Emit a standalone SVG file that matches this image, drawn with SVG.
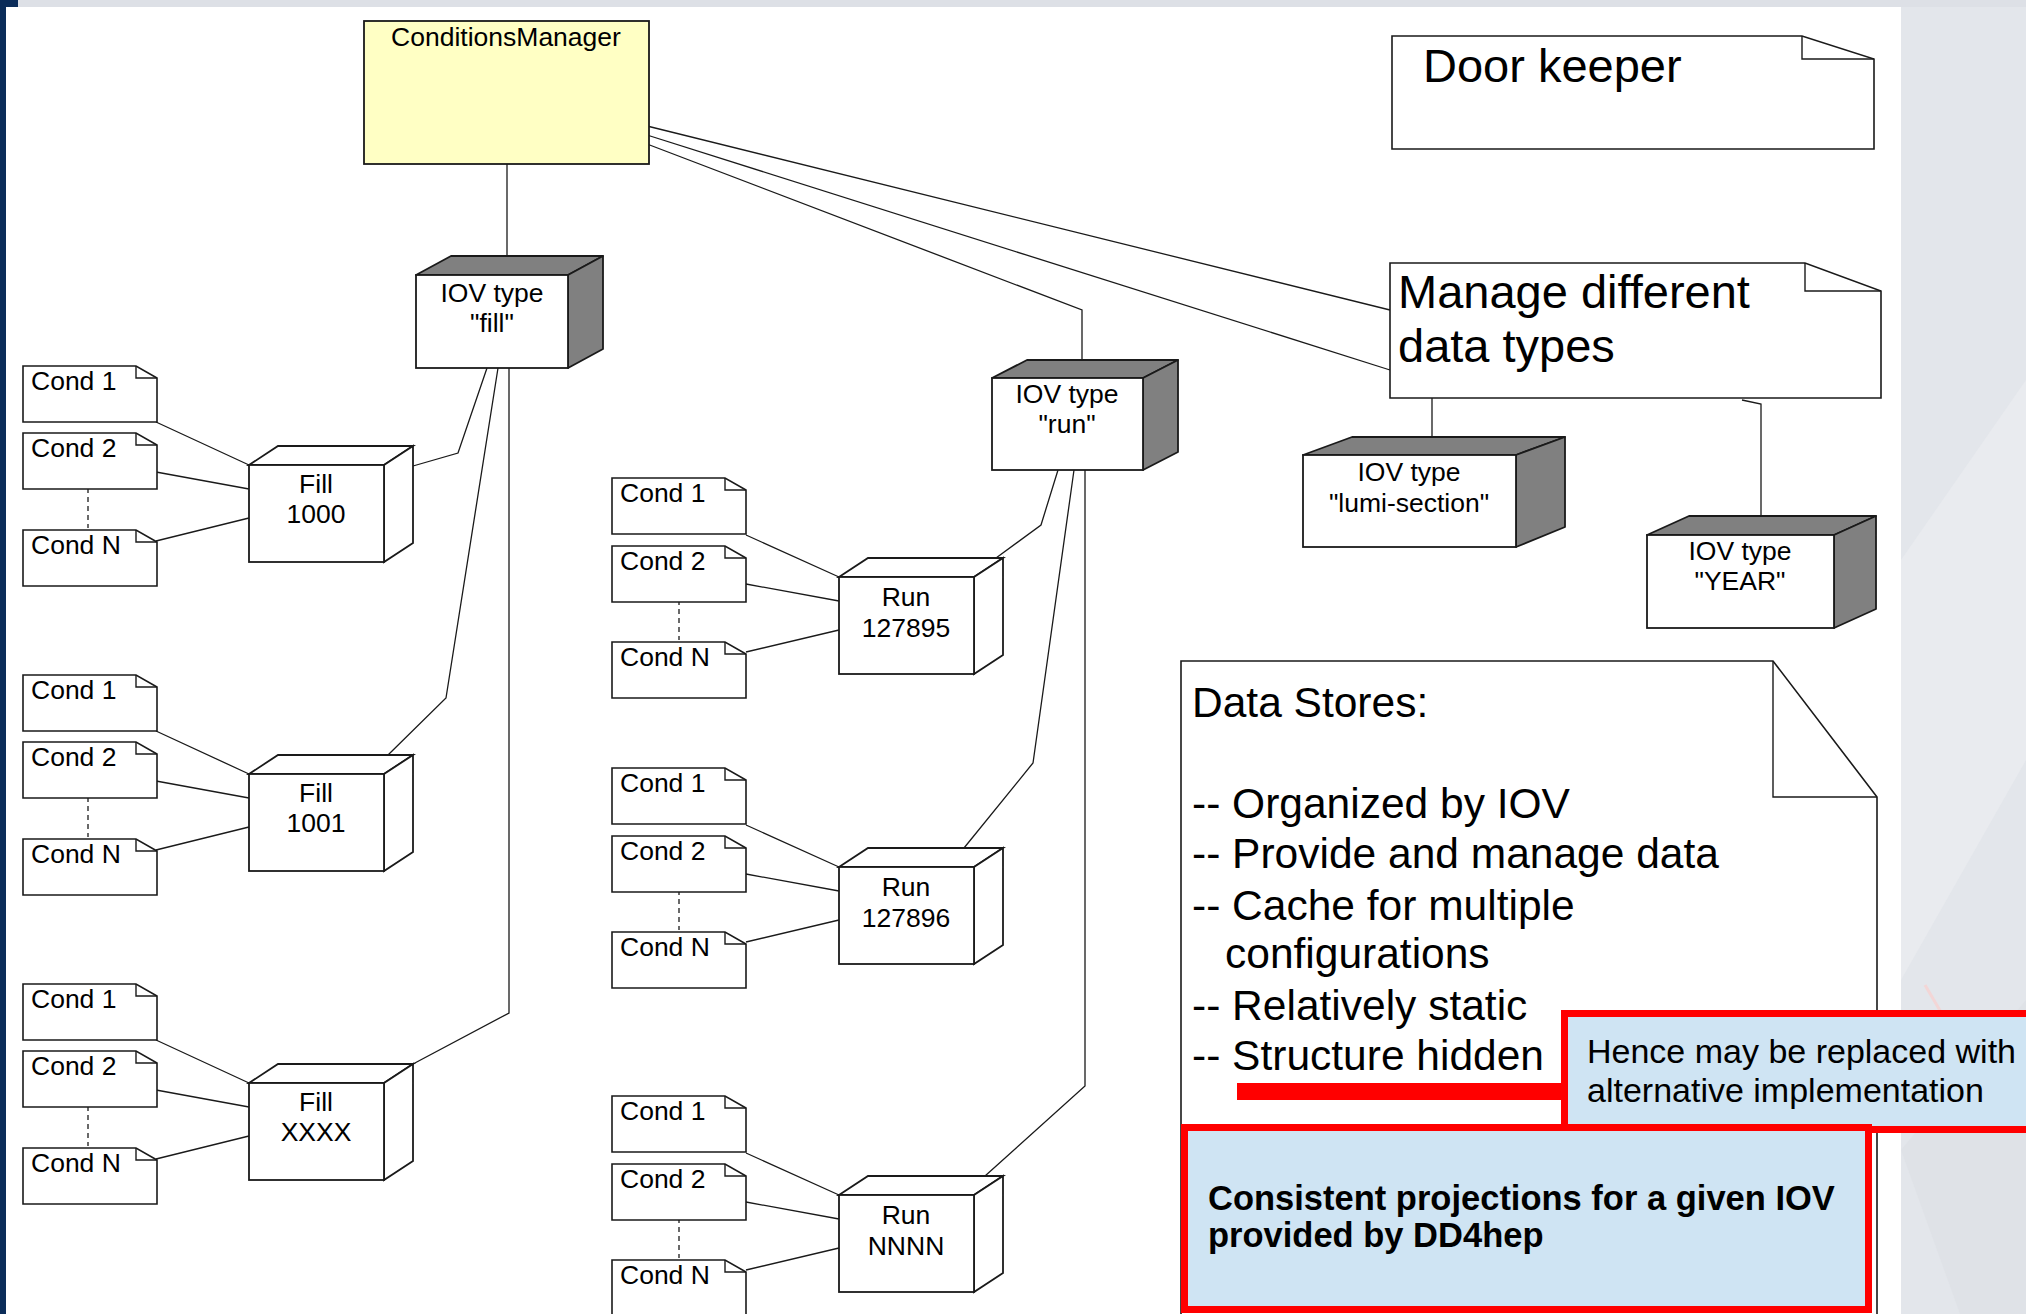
<svg xmlns="http://www.w3.org/2000/svg" xmlns:xlink="http://www.w3.org/1999/xlink" width="2026" height="1314" viewBox="0 0 2026 1314">
  <style>
    .lbl { font-family: "Liberation Sans", Arial, sans-serif; font-size: 26.5px; fill: #000; }
    .mid { text-anchor: middle; }
    .big { font-family: "Liberation Sans", Arial, sans-serif; font-size: 47px; fill: #000; }
    .ds { font-family: "Liberation Sans", Arial, sans-serif; font-size: 42.5px; fill: #000; }
    .hl { font-family: "Liberation Sans", Arial, sans-serif; font-size: 34px; fill: #000; }
    .hlb { font-family: "Liberation Sans", Arial, sans-serif; font-size: 34.5px; font-weight: bold; fill: #000; }
    .note { fill: #fff; stroke: #1a1a1a; stroke-width: 1.6; }
    .fold { fill: none; stroke: #1a1a1a; stroke-width: 1.4; }
    .face { fill: #fff; stroke: #1a1a1a; stroke-width: 1.8; }
    .shade { fill: #808080; stroke: #1a1a1a; stroke-width: 1.8; stroke-linejoin: round; }
    .conn { fill: none; stroke: #1a1a1a; stroke-width: 1.3; }
    .dash { fill: none; stroke: #1a1a1a; stroke-width: 1.3; stroke-dasharray: 5 4; }
    .callout { fill: #cfe4f3; stroke: #ff0000; stroke-width: 7; }
  </style>
  <defs>
    <!-- condition document: page with folded corner -->
    <g id="cond">
      <path class="note" d="M0,0 H113 L134,12 V56 H0 Z"/>
      <path class="fold" d="M113,0 V12 H134"/>
    </g>
    <!-- plain (white) 3D node, front 135x97 -->
    <g id="cube">
      <polygon class="face" points="0,0 29,-19 164,-19 135,0"/>
      <polygon class="face" points="135,0 164,-19 164,78 135,97"/>
      <rect class="face" x="0" y="0" width="135" height="97"/>
    </g>
  </defs>

  <!-- page background -->
  <rect x="0" y="0" width="2026" height="1314" fill="#ffffff"/>
  <rect x="1901" y="0" width="125" height="1314" fill="#e3e6eb"/>
  <polygon points="1901,560 2026,380 2026,760 1901,980" fill="#e9ebef"/>
  <polygon points="1901,1150 2026,1000 2026,1314 1960,1314" fill="#dfe2e7"/>
  <line x1="1925" y1="985" x2="1975" y2="1070" stroke="#f3d6d6" stroke-width="3"/>
  <rect x="0" y="0" width="2026" height="7" fill="#dde0e6"/>
  <rect x="0" y="0" width="6" height="1314" fill="#0b2c59"/>
  <rect x="0" y="0" width="18" height="7" fill="#0b2c59"/>

  <!-- connectors -->
  <g id="connectors">
    <path class="conn" d="M647,126 L1390,310"/>
    <path class="conn" d="M647,135 L1390,370"/>
    <path class="conn" d="M647,144 L1082,310 L1082,360"/>
    <path class="conn" d="M507,164 L507,256"/>
    <path class="conn" d="M487,368 L458,453 L413,466"/>
    <path class="conn" d="M498,368 L446,698 L388,755"/>
    <path class="conn" d="M509,368 L509,1013 L413,1064"/>
    <path class="conn" d="M1058,470 L1041,525 L996,558"/>
    <path class="conn" d="M1074,470 L1033,763 L964,848"/>
    <path class="conn" d="M1085,470 L1085,1086 L985,1176"/>
    <path class="conn" d="M1432,398 L1432,437"/>
    <path class="conn" d="M1742,400 L1761,404 L1761,516"/>
    <!-- fill groups -->
    <path class="conn" d="M156,422 L249,465 M156,472 L249,489 M156,541 L249,518"/>
    <path class="conn" d="M156,731 L249,774 M156,781 L249,798 M156,850 L249,827"/>
    <path class="conn" d="M156,1040 L249,1083 M156,1090 L249,1107 M156,1159 L249,1136"/>
    <path class="dash" d="M88,488 V528 M88,797 V837 M88,1106 V1146"/>
    <!-- run groups -->
    <path class="conn" d="M746,535 L839,577 M746,584 L839,601 M746,652 L839,630"/>
    <path class="conn" d="M746,825 L839,867 M746,874 L839,891 M746,942 L839,920"/>
    <path class="conn" d="M746,1153 L839,1195 M746,1202 L839,1219 M746,1270 L839,1248"/>
    <path class="dash" d="M679,600 V640 M679,890 V930 M679,1218 V1258"/>
  </g>

  <!-- manager -->
  <g id="conditions-manager">
    <rect x="364" y="21" width="285" height="143" fill="#ffffc4" stroke="#1a1a1a" stroke-width="1.8"/>
    <text class="lbl mid" x="506" y="46">ConditionsManager</text>
  </g>

  <!-- IOV type nodes (shaded 3D boxes) -->
  <g id="iov-fill">
    <polygon class="shade" points="416,275 451,256 603,256 568,275"/>
    <polygon class="shade" points="568,275 603,256 603,349 568,368"/>
    <rect class="face" x="416" y="275" width="152" height="93"/>
    <text class="lbl mid" x="492" y="302">IOV type</text>
    <text class="lbl mid" x="492" y="332">"fill"</text>
  </g>
  <g id="iov-run">
    <polygon class="shade" points="992,378 1027,360 1178,360 1143,378"/>
    <polygon class="shade" points="1143,378 1178,360 1178,452 1143,470"/>
    <rect class="face" x="992" y="378" width="151" height="92"/>
    <text class="lbl mid" x="1067" y="403">IOV type</text>
    <text class="lbl mid" x="1067" y="433">"run"</text>
  </g>
  <g id="iov-lumi">
    <polygon class="shade" points="1303,455 1352,437 1565,437 1516,455"/>
    <polygon class="shade" points="1516,455 1565,437 1565,527 1516,547"/>
    <rect class="face" x="1303" y="455" width="213" height="92"/>
    <text class="lbl mid" x="1409" y="481">IOV type</text>
    <text class="lbl mid" x="1409" y="512">"lumi-section"</text>
  </g>
  <g id="iov-year">
    <polygon class="shade" points="1647,535 1689,516 1876,516 1834,535"/>
    <polygon class="shade" points="1834,535 1876,516 1876,609 1834,628"/>
    <rect class="face" x="1647" y="535" width="187" height="93"/>
    <text class="lbl mid" x="1740" y="560">IOV type</text>
    <text class="lbl mid" x="1740" y="590">"YEAR"</text>
  </g>

  <!-- fill instances -->
  <g id="fill-1000">
    <use xlink:href="#cube" x="249" y="465"/>
    <text class="lbl mid" x="316" y="493">Fill</text>
    <text class="lbl mid" x="316" y="523">1000</text>
  </g>
  <g id="fill-1001">
    <use xlink:href="#cube" x="249" y="774"/>
    <text class="lbl mid" x="316" y="802">Fill</text>
    <text class="lbl mid" x="316" y="832">1001</text>
  </g>
  <g id="fill-xxxx">
    <use xlink:href="#cube" x="249" y="1083"/>
    <text class="lbl mid" x="316" y="1111">Fill</text>
    <text class="lbl mid" x="316" y="1141">XXXX</text>
  </g>

  <!-- run instances -->
  <g id="run-127895">
    <use xlink:href="#cube" x="839" y="577"/>
    <text class="lbl mid" x="906" y="606">Run</text>
    <text class="lbl mid" x="906" y="637">127895</text>
  </g>
  <g id="run-127896">
    <use xlink:href="#cube" x="839" y="867"/>
    <text class="lbl mid" x="906" y="896">Run</text>
    <text class="lbl mid" x="906" y="927">127896</text>
  </g>
  <g id="run-nnnn">
    <use xlink:href="#cube" x="839" y="1195"/>
    <text class="lbl mid" x="906" y="1224">Run</text>
    <text class="lbl mid" x="906" y="1255">NNNN</text>
  </g>

  <!-- conditions attached to fills -->
  <g id="fill-1000-conds">
    <use xlink:href="#cond" x="23" y="366"/><text class="lbl" x="31" y="390">Cond 1</text>
    <use xlink:href="#cond" x="23" y="433"/><text class="lbl" x="31" y="457">Cond 2</text>
    <use xlink:href="#cond" x="23" y="530"/><text class="lbl" x="31" y="554">Cond N</text>
  </g>
  <g id="fill-1001-conds">
    <use xlink:href="#cond" x="23" y="675"/><text class="lbl" x="31" y="699">Cond 1</text>
    <use xlink:href="#cond" x="23" y="742"/><text class="lbl" x="31" y="766">Cond 2</text>
    <use xlink:href="#cond" x="23" y="839"/><text class="lbl" x="31" y="863">Cond N</text>
  </g>
  <g id="fill-xxxx-conds">
    <use xlink:href="#cond" x="23" y="984"/><text class="lbl" x="31" y="1008">Cond 1</text>
    <use xlink:href="#cond" x="23" y="1051"/><text class="lbl" x="31" y="1075">Cond 2</text>
    <use xlink:href="#cond" x="23" y="1148"/><text class="lbl" x="31" y="1172">Cond N</text>
  </g>

  <!-- conditions attached to runs -->
  <g id="run-127895-conds">
    <use xlink:href="#cond" x="612" y="478"/><text class="lbl" x="620" y="502">Cond 1</text>
    <use xlink:href="#cond" x="612" y="546"/><text class="lbl" x="620" y="570">Cond 2</text>
    <use xlink:href="#cond" x="612" y="642"/><text class="lbl" x="620" y="666">Cond N</text>
  </g>
  <g id="run-127896-conds">
    <use xlink:href="#cond" x="612" y="768"/><text class="lbl" x="620" y="792">Cond 1</text>
    <use xlink:href="#cond" x="612" y="836"/><text class="lbl" x="620" y="860">Cond 2</text>
    <use xlink:href="#cond" x="612" y="932"/><text class="lbl" x="620" y="956">Cond N</text>
  </g>
  <g id="run-nnnn-conds">
    <use xlink:href="#cond" x="612" y="1096"/><text class="lbl" x="620" y="1120">Cond 1</text>
    <use xlink:href="#cond" x="612" y="1164"/><text class="lbl" x="620" y="1188">Cond 2</text>
    <use xlink:href="#cond" x="612" y="1260"/><text class="lbl" x="620" y="1284">Cond N</text>
  </g>

  <!-- annotation notes -->
  <g id="note-door-keeper">
    <path class="note" d="M1392,36 H1802 L1874,59 V149 H1392 Z"/>
    <path class="fold" d="M1802,36 V59 H1874"/>
    <text class="big" x="1423" y="82">Door keeper</text>
  </g>
  <g id="note-manage">
    <path class="note" d="M1390,263 H1805 L1881,291 V398 H1390 Z"/>
    <path class="fold" d="M1805,263 V291 H1881"/>
    <text class="big" x="1398" y="308">Manage different</text>
    <text class="big" x="1398" y="362">data types</text>
  </g>
  <g id="note-data-stores">
    <path class="note" d="M1181,661 H1773 L1877,797 V1322 H1181 Z"/>
    <path class="fold" d="M1773,661 V797 H1877"/>
    <text class="ds" x="1192" y="717">Data Stores:</text>
    <text class="ds" x="1192" y="818">-- Organized by IOV</text>
    <text class="ds" x="1192" y="868">-- Provide and manage data</text>
    <text class="ds" x="1192" y="920">-- Cache for multiple</text>
    <text class="ds" x="1225" y="968">configurations</text>
    <text class="ds" x="1192" y="1020">-- Relatively static</text>
    <text class="ds" x="1192" y="1070">-- Structure hidden</text>
    <rect x="1237" y="1083" width="326" height="17" fill="#ff0000"/>
  </g>

  <!-- highlighted callouts -->
  <g id="callout-replace">
    <rect class="callout" x="1564.5" y="1013.5" width="470" height="116"/>
    <text class="hl" x="1587" y="1063">Hence may be replaced with</text>
    <text class="hl" x="1587" y="1102">alternative implementation</text>
  </g>
  <g id="callout-dd4hep">
    <rect class="callout" x="1184.5" y="1127.5" width="684" height="182"/>
    <text class="hlb" x="1208" y="1210">Consistent projections for a given IOV</text>
    <text class="hlb" x="1208" y="1247">provided by DD4hep</text>
  </g>
</svg>
